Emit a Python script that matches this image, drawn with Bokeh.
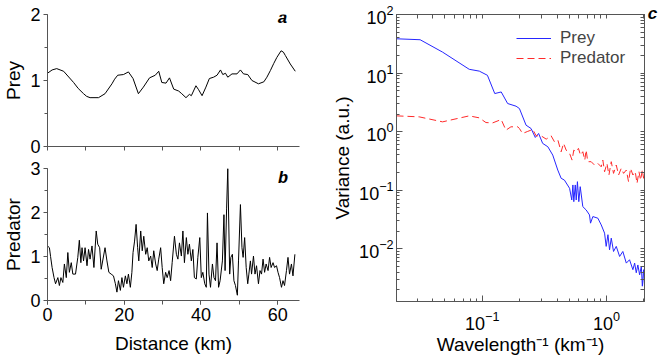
from bokeh.plotting import figure
from bokeh.layouts import row, column
from bokeh.models import (Range1d, SingleIntervalTicker, FixedTicker, LogAxis,
                          Label, Legend, LegendItem)
from bokeh.embed import file_html
from bokeh.resources import INLINE

# ---------------- data ----------------
prey_km = [0, 1.2, 2.4, 4.2, 6.8, 8.0, 9.4, 10.2, 11.1, 13.3, 15.0, 16.8, 17.5, 18.3, 19.8,
           21.1, 22.3, 23.7, 25.0, 26.6, 28.1, 29.0, 29.8, 30.9, 31.8, 32.9, 34.2, 35.0,
           36.1, 37.0, 37.5, 38.7, 39.4, 40.3, 41.3, 42.2, 43.3, 44.2, 45.1, 45.7, 46.4,
           47.0, 48.1, 49.4, 50.3, 51.1, 52.2, 53.3, 55.0, 56.4, 57.2, 58.1, 59.0, 59.8,
           60.9, 61.5, 62.0, 63.3, 64.6]
prey_val = [1.11, 1.16, 1.18, 1.14, 0.97, 0.88, 0.80, 0.76, 0.74, 0.74, 0.80, 0.95, 1.02,
            1.08, 1.09, 1.13, 1.03, 0.80, 0.90, 1.04, 1.08, 1.14, 0.97, 0.96, 1.04, 0.87,
            0.84, 0.80, 0.74, 0.79, 0.77, 0.92, 0.86, 0.77, 0.90, 1.03, 1.05, 1.08, 1.16,
            1.09, 1.11, 1.05, 1.10, 1.10, 1.16, 1.10, 1.09, 1.00, 0.95, 0.98, 1.05, 1.15,
            1.26, 1.35, 1.45, 1.43, 1.38, 1.25, 1.14]

pred_km = [0, 0.5, 0.8, 1.2, 1.7, 2.1, 2.7, 3.1, 3.5, 4.0,
           4.4, 4.9, 5.3, 5.7, 6.2, 6.6, 7.3, 7.9, 8.3, 8.7,
           9.0, 9.4, 9.8, 10.3, 10.7, 11.1, 11.6, 12.1, 12.7, 13.1,
           13.6, 14.0, 15.0, 15.5, 16.0, 16.6, 17.2, 17.7, 18.1, 18.5,
           19.0, 19.4, 19.8, 20.3, 20.7, 21.1, 21.6, 22.0, 22.3, 22.7,
           23.1, 23.5, 23.8, 24.3, 24.7, 25.1, 25.6, 26.0, 26.4, 26.9,
           27.3, 27.7, 28.2, 28.6, 29.0, 29.5, 29.9, 30.3, 30.8, 31.2,
           31.7, 32.1, 32.5, 33.1, 33.6, 34.0, 34.4, 34.9, 35.3, 35.7,
           36.2, 36.6, 37.0, 37.5, 37.9, 38.3, 38.8, 39.2, 39.7, 40.1,
           40.5, 41.0, 41.4, 41.7, 42.1, 42.5, 43.0, 43.4, 43.8, 44.2,
           44.6, 45.0, 45.6, 46.0, 46.3, 46.7, 47.0, 47.5, 47.8, 48.2,
           48.6, 49.0, 49.5, 49.8, 50.3, 50.7, 51.0, 51.4, 51.8, 52.2,
           52.5, 52.9, 53.2, 53.7, 54.1, 54.5, 55.0, 55.4, 55.8, 56.2,
           56.6, 57.0, 57.5, 57.9, 58.3, 58.8, 59.2, 59.7, 60.1, 60.5,
           61.0, 61.4, 61.8, 62.3, 62.7, 63.1, 63.6, 64.0, 64.5]
pred_val = [1.24, 1.2, 1.0, 0.75, 0.52, 0.38, 0.52, 0.34, 0.52, 0.41,
            0.83, 0.52, 1.09, 0.64, 0.86, 0.6, 0.6, 0.98, 1.37, 0.86,
            1.2, 0.9, 1.2, 0.79, 1.16, 0.94, 1.24, 0.75, 1.58, 1.28,
            1.2, 0.71, 1.2, 0.9, 0.64, 0.6, 0.56, 0.38, 0.19, 0.45,
            0.23, 0.52, 0.3, 0.56, 0.38, 0.6, 0.3, 0.64, 1.09, 1.35,
            1.73, 1.2, 0.9, 1.58, 1.13, 1.46, 1.05, 1.2, 0.9, 1.01,
            0.75, 1.13, 0.83, 0.68, 0.94, 1.2, 0.75, 0.38, 0.64, 0.52,
            0.68, 0.45, 0.86, 1.46, 1.05, 0.94, 1.31, 1.01, 1.58, 0.86,
            1.43, 1.05, 1.28, 0.9, 1.16, 0.52, 0.49, 0.98, 1.43, 0.52,
            0.64, 0.38, 0.3, 1.99, 0.6, 0.3, 0.83, 0.52, 0.45, 1.31,
            0.3, 0.45, 0.9, 1.95, 0.68, 2.1, 3.0, 0.6, 0.98, 1.05,
            0.45, 0.34, 0.12, 0.9, 2.18, 1.2, 0.98, 1.43, 0.75, 0.38,
            0.6, 0.9, 0.6, 1.01, 0.6, 0.79, 0.38, 0.68, 0.6, 0.94,
            0.64, 0.83, 0.68, 0.98, 0.75, 0.86, 0.75, 0.79, 0.64, 0.52,
            0.3, 0.45, 0.34, 0.68, 0.98, 0.6, 0.83, 0.56, 1.05]

prey_freq = [0.0204, 0.0316, 0.0479, 0.0785, 0.0946, 0.110, 0.126, 0.142, 0.160, 0.187,
             0.199, 0.225, 0.247, 0.267, 0.284, 0.306, 0.337, 0.369, 0.405, 0.431,
             0.458, 0.504, 0.525, 0.536, 0.545, 0.560, 0.570, 0.583, 0.598, 0.614,
             0.644, 0.685, 0.729, 0.743, 0.776, 0.851, 0.906, 0.964, 0.993, 1.026,
             1.057, 1.091, 1.138, 1.197, 1.274, 1.352, 1.442, 1.531, 1.629, 1.683,
             1.734, 1.786, 1.845, 1.905, 1.941, 1.986, 2.02]
prey_var = [38.5, 37.1, 22.8, 11.6, 10.8, 9.16, 4.47, 4.76, 3.02, 2.72,
            2.48, 1.29, 1.13, 0.796, 0.931, 0.631, 0.552, 0.398, 0.221, 0.160,
            0.149, 0.108, 0.0682, 0.123, 0.0638, 0.123, 0.0682, 0.140, 0.0638, 0.115,
            0.0525, 0.0461, 0.0379, 0.0274, 0.0355, 0.0333, 0.0256, 0.0185, 0.0110, 0.0174,
            0.0096, 0.0152, 0.0090, 0.0110, 0.0074, 0.0090, 0.0057, 0.0065, 0.0044, 0.0057,
            0.0039, 0.0053, 0.0036, 0.0050, 0.0023, 0.0044, 0.0023]

pred_freq = [0.0204, 0.0310, 0.0479, 0.0785, 0.0946, 0.107, 0.121, 0.142, 0.155, 0.170,
             0.193, 0.199, 0.211, 0.232, 0.255, 0.271, 0.297, 0.327, 0.358, 0.381,
             0.406, 0.431, 0.451, 0.473, 0.504, 0.528, 0.545, 0.569, 0.594, 0.617,
             0.644, 0.668, 0.685, 0.706, 0.752, 0.800, 0.851, 0.906, 0.933, 0.964,
             1.007, 1.045, 1.091, 1.138, 1.197, 1.250, 1.312, 1.371, 1.442, 1.503,
             1.560, 1.629, 1.702, 1.758, 1.824, 1.879, 1.941, 1.986, 2.02]
pred_var = [1.86, 1.79, 1.47, 1.86, 1.72, 1.43, 1.41, 1.61, 1.06, 1.21,
            1.21, 1.13, 0.931, 1.01, 1.09, 0.849, 0.849, 0.745, 0.849, 0.671,
            0.716, 0.454, 0.631, 0.484, 0.425, 0.327, 0.484, 0.454, 0.518, 0.398,
            0.454, 0.327, 0.484, 0.307, 0.307, 0.269, 0.287, 0.251, 0.327, 0.207,
            0.287, 0.182, 0.307, 0.194, 0.269, 0.182, 0.236, 0.194, 0.221, 0.140,
            0.236, 0.182, 0.207, 0.131, 0.207, 0.149, 0.221, 0.160, 0.194]

dist_ticks = [0, 10, 20, 30, 40, 50, 60]
x_major = [0.1, 1]
x_minor = [0.03, 0.04, 0.05, 0.06, 0.07, 0.08, 0.09, 0.2, 0.3, 0.4, 0.5, 0.6, 0.7, 0.8, 0.9, 2]
y_major = [0.01, 0.1, 1, 10, 100]
y_minor = [m * d for d in [0.001, 0.01, 0.1, 1, 10] for m in range(2, 10)]

# ---------------- style ----------------
FONT = "Liberation Sans"
AX = "#555555"
TICK_FS = "18px"
LAB_FS = "19px"


def style_axis(ax, inward=False):
    ax.axis_line_color = AX
    ax.major_tick_line_color = AX
    ax.minor_tick_line_color = AX
    ax.major_label_text_font = FONT
    ax.major_label_text_font_size = TICK_FS
    ax.major_label_text_color = "black"
    ax.axis_label_text_font = FONT
    ax.axis_label_text_font_size = LAB_FS
    ax.axis_label_text_font_style = "normal"
    ax.axis_label_text_color = "black"
    ax.axis_label_standoff = 3
    ax.major_label_standoff = 3
    if inward:
        ax.major_tick_in, ax.major_tick_out = 6, 0
        ax.minor_tick_in, ax.minor_tick_out = 3, 0
    else:
        ax.major_tick_in, ax.major_tick_out = 0, 4
        ax.minor_tick_in, ax.minor_tick_out = 0, 3


def panel_letter(p, x, y, t):
    p.add_layout(Label(x=x, y=y, text=t, text_font="Liberation Mono",
                       text_font_style="bold italic", text_font_size="17px",
                       text_align="center", text_baseline="middle", text_color="black"))


# ---- panel a ----
pa = figure(frame_width=252, frame_height=132, x_range=Range1d(0, 65.7), y_range=Range1d(0, 2),
            output_backend="svg", toolbar_location=None,
            min_border_left=40, min_border_right=10, min_border_top=14, min_border_bottom=11)
pa.outline_line_color = None
pa.grid.visible = False
pa.line(prey_km, prey_val, color="black", line_width=1)
style_axis(pa.xaxis[0])
style_axis(pa.yaxis[0])
# bottom axis of panel a: ticks only, no labels
pa.xaxis.ticker = FixedTicker(ticks=[], minor_ticks=dist_ticks)
pa.xaxis.minor_tick_out = 4
pa.xaxis.major_label_standoff = 0
pa.yaxis.ticker = SingleIntervalTicker(interval=1, num_minor_ticks=2)
pa.yaxis.axis_label = "Prey"
panel_letter(pa, 61.3, 1.94, "a")

# ---- panel b ----
pb = figure(frame_width=252, frame_height=132, x_range=Range1d(0, 65.7), y_range=Range1d(0, 3),
            output_backend="svg", toolbar_location=None,
            min_border_left=40, min_border_right=10, min_border_top=11, min_border_bottom=53)
pb.outline_line_color = None
pb.grid.visible = False
pb.line(pred_km, pred_val, color="black", line_width=1)
style_axis(pb.xaxis[0])
style_axis(pb.yaxis[0])
pb.xaxis.ticker = SingleIntervalTicker(interval=20, num_minor_ticks=2)
pb.xaxis.minor_tick_out = 4
pb.xaxis.major_label_standoff = 3
pb.xaxis.axis_label_standoff = 9
pb.yaxis.ticker = SingleIntervalTicker(interval=1, num_minor_ticks=2)
pb.xaxis.axis_label = "Distance (km)"
pb.yaxis.axis_label = "Predator"
panel_letter(pb, 61.4, 2.77, "b")

# ---- panel c ----
pc = figure(frame_width=248, frame_height=287, x_axis_type="log", y_axis_type="log",
            x_range=Range1d(0.0204, 2.02), y_range=Range1d(0.00126, 100),
            output_backend="svg", toolbar_location=None,
            min_border_left=87, min_border_right=13, min_border_top=14, min_border_bottom=52)
pc.outline_line_color = AX
pc.grid.visible = False
r_prey = pc.line(prey_freq, prey_var, color="#2626ff", line_width=1)
r_pred = pc.line(pred_freq, pred_var, color="#ff2a2a", line_width=1, line_dash="7 4")
style_axis(pc.xaxis[0], inward=True)
style_axis(pc.yaxis[0], inward=True)
pc.xaxis.ticker = FixedTicker(ticks=x_major, minor_ticks=x_minor)
pc.yaxis.ticker = FixedTicker(ticks=y_major, minor_ticks=y_minor)
pc.xaxis.major_label_standoff = 9
pc.xaxis.axis_label_standoff = 1
pc.xaxis.axis_label = "Wavelength\u207b\u00b9 (km\u207b\u00b9)"
pc.yaxis.axis_label = "Variance (a.u.)"

# top axis: tick marks only; right axis: tick marks plus the panel letter "c"
top_ax = LogAxis(ticker=FixedTicker(ticks=[], minor_ticks=x_major + x_minor))
right_ax = LogAxis(ticker=FixedTicker(ticks=[100], minor_ticks=y_major + y_minor))
for ax in (top_ax, right_ax):
    style_axis(ax, inward=True)
    ax.minor_tick_in = 4
    ax.major_label_standoff = 0
right_ax.major_tick_in = 0
right_ax.major_label_standoff = 3
right_ax.major_label_overrides = {100: "c"}
right_ax.major_label_text_font = "Liberation Mono"
right_ax.major_label_text_font_style = "bold italic"
right_ax.major_label_text_font_size = "17px"
pc.add_layout(top_ax, "above")
pc.add_layout(right_ax, "right")

legend = Legend(items=[LegendItem(label="Prey", renderers=[r_prey]),
                       LegendItem(label="Predator", renderers=[r_pred])],
                location=(120, 233), border_line_color=None, background_fill_alpha=0,
                padding=0, margin=0, spacing=0, label_text_font=FONT,
                label_text_font_size="17px", glyph_width=35, glyph_height=18,
                label_height=18, label_standoff=9)
pc.add_layout(legend)

layout = row(column(pa, pb), pc)
open("out.html", "w").write(file_html(layout, INLINE))
